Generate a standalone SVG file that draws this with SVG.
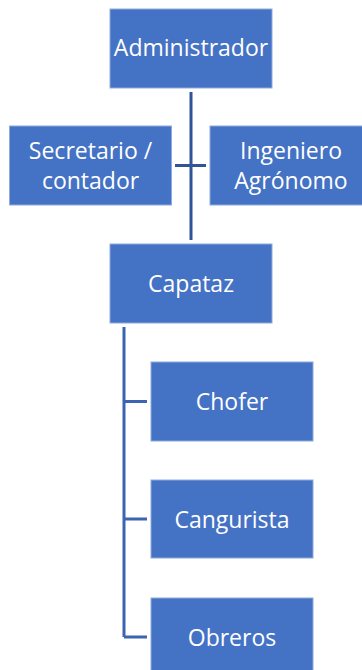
<svg xmlns="http://www.w3.org/2000/svg" width="362" height="670" viewBox="0 0 362 670">
<style>
.box{fill:#4472C4;stroke:#8FAADC;stroke-width:1}
.t{fill:#fff;font-family:"Open Sans","Liberation Sans",sans-serif;font-size:23px;text-anchor:middle}
.c{fill:none;stroke:#2F5597;stroke-width:3}
.c2{fill:none;stroke:#3B65B3;stroke-width:3}
</style>
<rect width="362" height="670" fill="#fff"/>
<g id="connectors">
<path class="c" d="M191 92V240M175 165.5H206"/>
<path class="c2" d="M124 327V637M124 401.5H147M124 519H147M124 637H147"/>
</g>
<g id="administrador"><rect class="box" x="110" y="9" width="162" height="79"/><text class="t" x="191" y="56">Administrador</text></g>
<g id="secretario"><rect class="box" x="9.5" y="126" width="162" height="79"/><text class="t" x="90.5" y="159">Secretario /</text><text class="t" x="90.5" y="189">contador</text></g>
<g id="ingeniero"><rect class="box" x="210" y="126" width="162" height="79"/><text class="t" x="291" y="159">Ingeniero</text><text class="t" x="291" y="189">Agrónomo</text></g>
<g id="capataz"><rect class="box" x="110" y="244" width="162" height="79"/><text class="t" x="191" y="292">Capataz</text></g>
<g id="chofer"><rect class="box" x="151" y="362" width="162" height="79"/><text class="t" x="232" y="410">Chofer</text></g>
<g id="cangurista"><rect class="box" x="151" y="480" width="162" height="78"/><text class="t" x="232" y="528">Cangurista</text></g>
<g id="obreros"><rect class="box" x="151" y="598" width="162" height="79"/><text class="t" x="232" y="646">Obreros</text></g>
</svg>
